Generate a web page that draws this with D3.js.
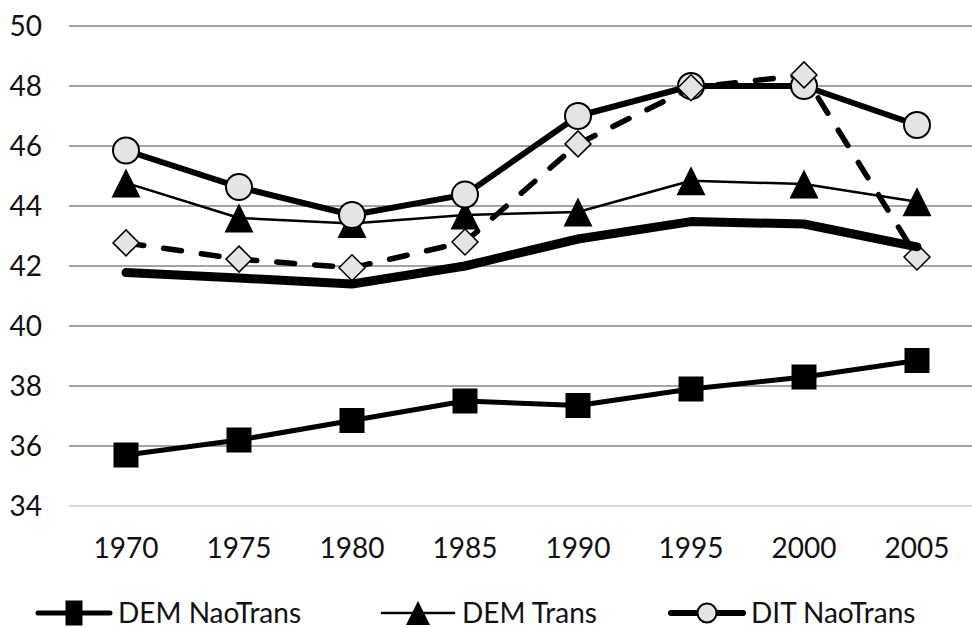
<!DOCTYPE html>
<html>
<head>
<meta charset="utf-8">
<script src="https://cdn.jsdelivr.net/npm/d3@7"></script>
<style>
  body { margin: 0; background: #fff; }
  svg text { font-family: Lato, "Open Sans", sans-serif; fill: #111; }
</style>
</head>
<body>
<svg id="chart" width="972" height="628"></svg>
<script>
// values
const years = ["1970", "1975", "1980", "1985", "1990", "1995", "2000", "2005"];
const yTicks = [34, 36, 38, 40, 42, 44, 46, 48, 50];
const demNaoTrans = [35.7, 36.2, 36.85, 37.5, 37.35, 37.9, 38.3, 38.85];
const demTrans = [44.77, 43.6, 43.42, 43.7, 43.8, 44.84, 44.73, 44.14];
const ditNaoTrans = [45.85, 44.63, 43.7, 44.38, 47.0, 48.0, 48.0, 46.7];
const ditTrans = [42.77, 42.23, 41.94, 42.8, 46.07, 47.94, 48.37, 42.3];
const thickLine = [41.78, 41.6, 41.4, 42.0, 42.9, 43.48, 43.4, 42.64];

const svg = d3.select("#chart");
const width = 972, height = 628;

const x = d3.scalePoint().domain(years).range([69.5, 973.5]).padding(0.5);
const y = d3.scaleLinear().domain([34, 50]).range([506, 26]);

// gridlines
svg.append("g").selectAll("line")
  .data(yTicks)
  .enter().append("line")
  .attr("x1", 69).attr("x2", width)
  .attr("y1", d => y(d)).attr("y2", d => y(d))
  .attr("stroke", d => d === 34 ? "#d9d9d9" : "#858585")
  .attr("stroke-width", d => d === 34 ? 2 : 1.3);

// y axis labels
svg.append("g").selectAll("text")
  .data(yTicks)
  .enter().append("text")
  .attr("x", 42).attr("y", d => y(d))
  .attr("dy", "0.36em")
  .attr("text-anchor", "end")
  .style("font-size", "28px")
  .text(d => d);

// x axis labels
svg.append("g").selectAll("text")
  .data(years)
  .enter().append("text")
  .attr("x", d => x(d)).attr("y", 558)
  .attr("text-anchor", "middle")
  .style("font-size", "28px")
  .text(d => d);

// marker shapes, centred on the point
function squarePath(w, h) { return `M${-w / 2},${-h / 2}H${w / 2}V${h / 2}H${-w / 2}Z`; }
function trianglePath(s) { const h = s / 2; return `M0,${-h}L${h},${h}L${-h},${h}Z`; }
function diamondPath(s) { const h = s / 2; return `M0,${-h}L${h},0L0,${h}L${-h},0Z`; }

const series = [
  { name: "DEM NaoTrans", values: demNaoTrans, width: 5, dash: null, marker: "square" },
  { name: "DEM Trans", values: demTrans, width: 2.5, dash: null, marker: "triangle" },
  { name: "DIT NaoTrans", values: ditNaoTrans, width: 6, dash: null, marker: "circle" },
  { name: "DIT Trans", values: ditTrans, width: 5.5, dash: "18,20", marker: "diamond" },
  { name: "Total", values: thickLine, width: 9, dash: null, marker: null }
];

const line = d3.line()
  .x((d, i) => x(years[i]))
  .y(d => y(d));

function drawMarker(sel, type, big) {
  if (type === "square") {
    sel.append("path").attr("d", big ? squarePath(25, 25) : squarePath(17, 25)).attr("fill", "#000");
  } else if (type === "triangle") {
    sel.append("path").attr("d", trianglePath(big ? 29 : 24)).attr("fill", "#000");
  } else if (type === "circle") {
    sel.append("circle").attr("r", big ? 13 : 9.5)
      .attr("fill", "#e4e4e4").attr("stroke", "#000").attr("stroke-width", 2);
  } else if (type === "diamond") {
    sel.append("path").attr("d", diamondPath(big ? 26 : 20))
      .attr("fill", "#e4e4e4").attr("stroke", "#000").attr("stroke-width", 1.5);
  }
}

series.forEach(s => {
  const g = svg.append("g");
  g.append("path")
    .datum(s.values)
    .attr("d", line)
    .attr("fill", "none")
    .attr("stroke", "#000")
    .attr("stroke-width", s.width)
    .attr("stroke-linecap", "round")
    .attr("stroke-linejoin", "round")
    .attr("stroke-dasharray", s.dash);
  if (s.marker) {
    g.selectAll("g.m")
      .data(s.values)
      .enter().append("g")
      .attr("class", "m")
      .attr("transform", (d, i) => "translate(" + x(years[i]) + "," + y(d) + ")")
      .each(function() { drawMarker(d3.select(this), s.marker, true); });
  }
});

// legend (only the first row is in view)
const legendX = [38, 382, 671];
const legendY = 613;
const lg = svg.append("g");
series.slice(0, 3).forEach((s, i) => {
  const e = lg.append("g").attr("transform", "translate(" + legendX[i] + "," + legendY + ")");
  e.append("line")
    .attr("x1", 0).attr("x2", 72)
    .attr("stroke", "#000")
    .attr("stroke-width", s.width)
    .attr("stroke-linecap", "round");
  const m = e.append("g").attr("transform", "translate(36,0)");
  drawMarker(m, s.marker, false);
  e.append("text")
    .attr("x", 80).attr("y", 0).attr("dy", "0.36em")
    .style("font-size", "28px")
    .text(s.name);
});
</script>
</body>
</html>
